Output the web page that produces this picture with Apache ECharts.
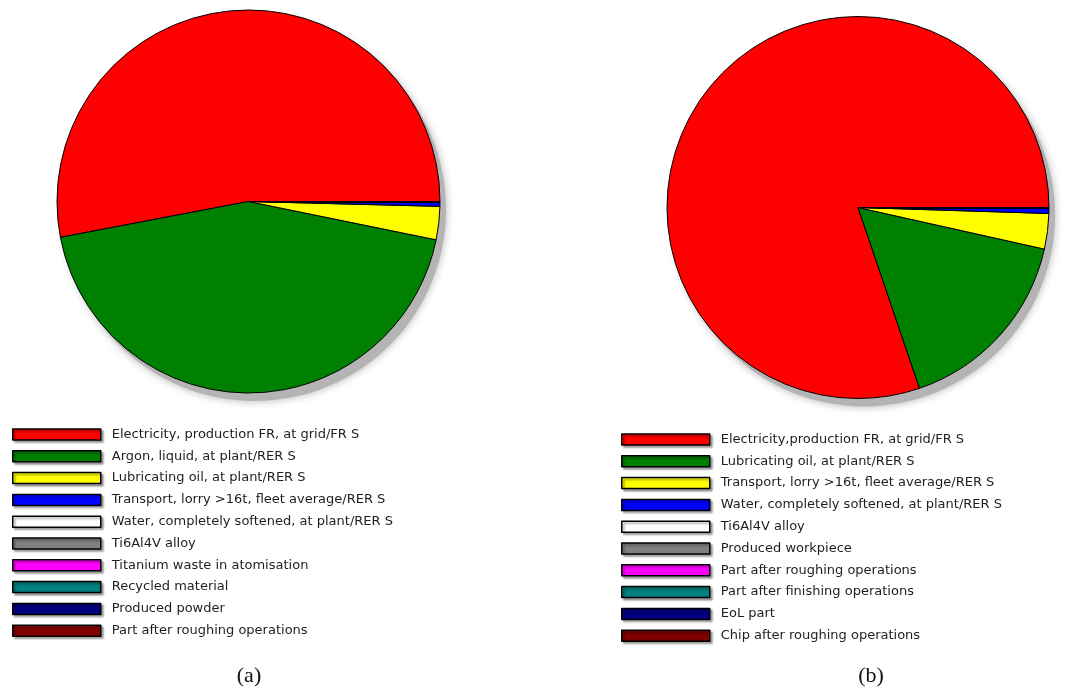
<!DOCTYPE html>
<html>
<head>
<meta charset="utf-8">
<script src="https://cdn.jsdelivr.net/npm/echarts@6/dist/echarts.min.js"></script>
<style>
  html, body { margin: 0; padding: 0; background: #fff; }
  #chart { width: 1078px; height: 691px; }
</style>
</head>
<body>
<div id="chart"></div>
<script>
    // (a) left pie
    var namesA = [
        'Electricity, production FR, at grid/FR S',
        'Argon, liquid, at plant/RER S',
        'Lubricating oil, at plant/RER S',
        'Transport, lorry >16t, fleet average/RER S',
        'Water, completely softened, at plant/RER S',
        'Ti6Al4V alloy',
        'Titanium waste in atomisation',
        'Recycled material',
        'Produced powder',
        'Part after roughing operations'
    ];
    var valuesA = [53.0, 43.8, 2.8, 0.33, 0.03, 0.02, 0.01, 0.005, 0.005, 0.005];

    // (b) right pie
    var namesB = [
        'Electricity,production FR, at grid/FR S',
        'Lubricating oil, at plant/RER S',
        'Transport, lorry >16t, fleet average/RER S',
        'Water, completely softened, at plant/RER S',
        'Ti6Al4V alloy',
        'Produced workpiece',
        'Part after roughing operations',
        'Part after finishing operations',
        'EoL part',
        'Chip after roughing operations'
    ];
    var valuesB = [80.3, 16.3, 3.0, 0.42, 0.03, 0.02, 0.01, 0.01, 0.005, 0.005];

    var colors = ['#ff0000', '#008000', '#ffff00', '#0000ff', '#ffffff',
                  '#808080', '#ff00ff', '#008080', '#000080', '#800000'];

    var chart = echarts.init(document.getElementById('chart'));

    function pieData(names, values) {
        var out = [];
        for (var i = 0; i < names.length; i++) {
            out.push({ name: names[i], value: values[i], itemStyle: { color: colors[i] } });
        }
        return out;
    }

    function legendData(names) {
        var out = [];
        for (var i = 0; i < names.length; i++) {
            out.push({ name: names[i], itemStyle: { color: colors[i] } });
        }
        return out;
    }

    // soft grey drop shadow behind each pie
    function shadowPie(center, r) {
        return {
            type: 'pie',
            silent: true,
            center: [center[0] + 6, center[1] + 8],
            radius: r,
            label: { show: false },
            labelLine: { show: false },
            itemStyle: { color: '#b4b4b4', shadowBlur: 8, shadowColor: '#b4b4b4' },
            data: [{ name: '', value: 1 }]
        };
    }

    function mainPie(center, r, names, values) {
        return {
            type: 'pie',
            center: center,
            radius: r,
            startAngle: 0,
            clockwise: false,
            animation: false,
            label: { show: false },
            labelLine: { show: false },
            emphasis: { disabled: true },
            itemStyle: { borderColor: '#000', borderWidth: 1 },
            data: pieData(names, values)
        };
    }

    function legend(names, left, top) {
        return {
            orient: 'vertical',
            left: left,
            top: top,
            padding: 0,
            icon: 'rect',
            itemWidth: 88,
            itemHeight: 11,
            itemGap: 8.8,
            selectedMode: false,
            itemStyle: {
                borderColor: '#000', borderWidth: 1.5,
                shadowBlur: 2, shadowOffsetX: 2, shadowOffsetY: 2, shadowColor: 'rgba(0,0,0,0.35)'
            },
            textStyle: {
                fontFamily: 'DejaVu Sans', fontSize: 13, color: '#1e1e1e',
                lineHeight: 11, padding: [0, 0, 0, 6]
            },
            data: legendData(names)
        };
    }

    var centerA = [248.5, 201.5], centerB = [858, 207.5];

    var option = {
        animation: false,
        backgroundColor: '#fff',
        title: [
            { text: '(a)', left: 244, top: 660, textAlign: 'center',
              textStyle: { fontFamily: 'Liberation Serif', fontSize: 22, fontWeight: 'normal', color: '#111' } },
            { text: '(b)', left: 866, top: 660, textAlign: 'center',
              textStyle: { fontFamily: 'Liberation Serif', fontSize: 22, fontWeight: 'normal', color: '#111' } }
        ],
        legend: [
            legend(namesA, 12, 428),
            legend(namesB, 621, 433)
        ],
        series: [
            shadowPie(centerA, 191.5),
            shadowPie(centerB, 191),
            mainPie(centerA, 191.5, namesA, valuesA),
            mainPie(centerB, 191, namesB, valuesB)
        ]
    };

    chart.setOption(option);
</script>
</body>
</html>
